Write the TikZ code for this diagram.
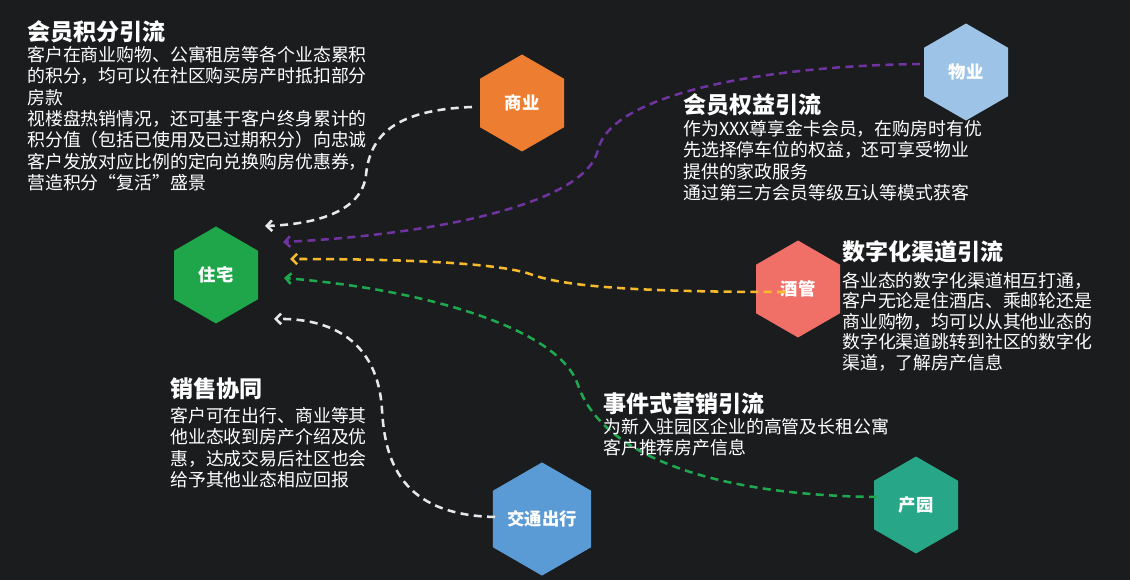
\documentclass[tikz,border=0pt]{standalone}
\usepackage{fontspec}
\newfontfamily\cjk{Noto Sans CJK SC}
\usetikzlibrary{shapes.geometric,arrows.meta}
\definecolor{bg}{RGB}{26,28,30}
\definecolor{czz}{RGB}{32,166,74}
\definecolor{csy}{RGB}{237,125,49}
\definecolor{cwy}{RGB}{157,195,230}
\definecolor{cjg}{RGB}{240,112,104}
\definecolor{cyq}{RGB}{40,166,136}
\definecolor{cjt}{RGB}{91,155,213}
\definecolor{lwhite}{RGB}{232,232,232}
\definecolor{lpurple}{RGB}{112,52,160}
\definecolor{lyellow}{RGB}{247,186,44}
\definecolor{lgreen}{RGB}{31,168,80}
\newcommand\hexfont{\cjk\bfseries\fontsize{13pt}{15pt}\selectfont}
\newcommand\titlefont{\cjk\bfseries\fontsize{17.3pt}{20pt}\selectfont}
\newcommand\bodyfont{\cjk\fontsize{13.4pt}{16pt}\selectfont}
\newcommand\bodyfontc{\cjk\fontsize{13.4pt}{15.3pt}\selectfont}
\begin{document}
\begin{tikzpicture}[x=0.75pt,y=-0.75pt,
  hexa/.style={regular polygon,regular polygon sides=6,shape border rotate=30,minimum size=72.75pt,inner sep=0pt,text=white,font=\hexfont},
  flow/.style={dash pattern=on 6pt off 4pt,line width=1.9pt,-{Straight Barb[length=4pt,width=8pt]}},
  ttl/.style={anchor=north west,inner sep=0pt,text=white,font=\titlefont},
  txt/.style={anchor=north west,inner sep=0pt,text=white,font=\bodyfont,align=left}]
\fill[bg] (0,0) rectangle (1130,580);
\useasboundingbox (0,0) rectangle (1130,580);

% hexagons
\node[hexa,fill=czz] (zz) at (216,275) {住宅};
\node[hexa,fill=csy] (sy) at (522,103) {商业};
\node[hexa,fill=cwy] (wy) at (966,72) {物业};
\node[hexa,fill=cjg] (jg) at (798,289) {酒管};
\node[hexa,fill=cyq] (yq) at (916,505) {产园};
\node[hexa,fill=cjt] (jt) at (542,519) {交通出行};

% connectors
\draw[flow,lwhite] ([shift={(-50,4)}]sy.center) .. controls (395,110) and (370,135) .. (366,175)
  .. controls (362,210) and (320,224) .. ([shift={(49,-49)}]zz.center);
\draw[flow,lpurple] ([shift={(-46,-8)}]wy.center) .. controls (760,66) and (610,95) .. (598,150)
  .. controls (585,205) and (430,235) .. ([shift={(67,-33)}]zz.center);
\draw[flow,lyellow] ([shift={(-13,3)}]jg.center) .. controls (620,292) and (560,285) .. (530,274)
  .. controls (500,264) and (420,259) .. ([shift={(74,-16)}]zz.center);
\draw[flow,lgreen] ([shift={(-39,-8)}]yq.center) .. controls (700,495) and (600,450) .. (578,385)
  .. controls (560,330) and (430,290) .. ([shift={(68,3)}]zz.center);
\draw[flow,lwhite] ([shift={(-47,-2)}]jt.center) .. controls (400,515) and (385,460) .. (382,410)
  .. controls (378,340) and (330,318) .. ([shift={(58,44)}]zz.center);

% texts
\node[ttl] (t1) at (27,20) {会员积分引流};
\node[txt] (b1) at (27,46) {客户在商业购物、公寓租房等各个业态累积\\的积分，均可以在社区购买房产时抵扣部分\\房款\\视楼盘热销情况，还可基于客户终身累计的\\积分值（包括已使用及已过期积分）向忠诚\\客户发放对应比例的定向兑换购房优惠券，\\营造积分“复活”盛景};

\node[ttl] (t2) at (683,93) {会员权益引流};
\node[txt] (b2) at (683,120) {作为XXX尊享金卡会员，在购房时有优\\先选择停车位的权益，还可享受物业\\提供的家政服务\\通过第三方会员等级互认等模式获客};

\node[ttl] (t3) at (842,240) {数字化渠道引流};
\node[txt,font=\bodyfontc] (b3) at (842,272) {各业态的数字化渠道相互打通，\\客户无论是住酒店、乘邮轮还是\\商业购物，均可以从其他业态的\\数字化渠道跳转到社区的数字化\\渠道，了解房产信息};

\node[ttl] (t4) at (603,392) {事件式营销引流};
\node[txt] (b4) at (603,418) {为新入驻园区企业的高管及长租公寓\\客户推荐房产信息};

\node[ttl] (t5) at (170,377) {销售协同};
\node[txt] (b5) at (170,407) {客户可在出行、商业等其\\他业态收到房产介绍及优\\惠，达成交易后社区也会\\给予其他业态相应回报};
\end{tikzpicture}
\end{document}
